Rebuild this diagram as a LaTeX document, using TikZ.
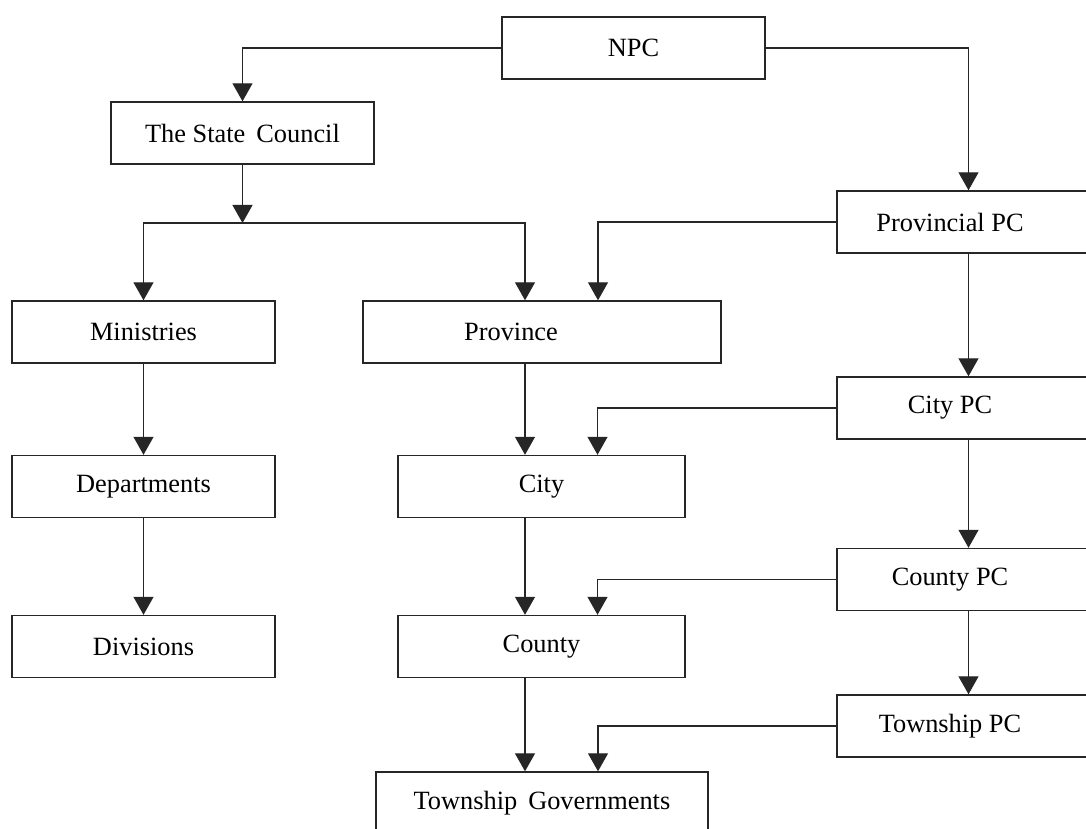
\documentclass[tikz,border=0pt]{standalone}
\usepackage{fontspec}
\setmainfont{Liberation Serif}
\usetikzlibrary{arrows.meta}

\tikzset{
	box/.style={draw=black!85, line width=0.8pt, minimum height=1.24cm, inner sep=0pt, font=\fontsize{15}{18}\selectfont},
	arr/.style={draw=black!85, line width=0.7pt, -{Triangle[length=0.36cm,width=0.4cm]}},
}
\newcommand{\pcname}[1]{#1\hspace{0.74cm}\mbox{}}

\begin{document}
\begin{tikzpicture}[]
	%\draw[help lines, thick] (0,0) grid (22,17);
	\useasboundingbox (0,0) rectangle (21.72,16.56);
	\clip (0,0) rectangle (21.72,16.56);
	\node[box, minimum width=5.26cm] (npc) at (12.67,15.6) {NPC};
	\node[box, minimum width=5.26cm] (council) at (4.85,13.9) {The State\, Council};
	\node[box, minimum width=5.26cm] (provpc) at (19.37,12.12) {\pcname{Provincial PC}};
	\node[box, minimum width=5.26cm] (ministries) at (2.87,9.92) {Ministries};
	\node[box, minimum width=7.16cm] (province) at (10.84,9.92) {Province\hspace{1.24cm}\mbox{}};
	\node[box, minimum width=5.26cm] (citypc) at (19.37,8.4) {\pcname{City PC}};
	\node[box, minimum width=5.26cm] (departments) at (2.87,6.83) {Departments};
	\node[box, minimum width=5.74cm] (city) at (10.83,6.83) {City};
	\node[box, minimum width=5.26cm] (countypc) at (19.37,4.97) {\pcname{County PC}};
	\node[box, minimum width=5.26cm] (divisions) at (2.87,3.63) {Divisions};
	\node[box, minimum width=5.74cm] (county) at (10.83,3.63) {County};
	\node[box, minimum width=5.26cm] (townshippc) at (19.37,2.04) {\pcname{Township PC}};
	\node[box, minimum width=6.64cm] (township) at (10.84,0.5) {Township\, Governments};
	\coordinate (fork) at (4.85,12.1);
	\draw[arr] (npc.west) -| (council.north);
	\draw[arr] (npc.east) -| (provpc.north);
	\draw[arr] (council.south) -- (fork);
	\draw[arr] (fork) -| (ministries.north);
	\draw[arr] (fork) -| ([xshift=-0.34cm]province.north);
	\draw[arr] (provpc.west) -| ([xshift=1.12cm]province.north);
	\draw[arr] (provpc.south) -- (citypc.north);
	\draw[arr] (citypc.west) -| ([xshift=1.12cm]city.north);
	\draw[arr] (citypc.south) -- (countypc.north);
	\draw[arr] (countypc.west) -| ([xshift=1.12cm]county.north);
	\draw[arr] (countypc.south) -- (townshippc.north);
	\draw[arr] (townshippc.west) -| ([xshift=1.12cm]township.north);
	\draw[arr] (ministries.south) -- (departments.north);
	\draw[arr] (departments.south) -- (divisions.north);
	\draw[arr] ([xshift=-0.34cm]province.south) -- ([xshift=-0.33cm]city.north);
	\draw[arr] ([xshift=-0.33cm]city.south) -- ([xshift=-0.33cm]county.north);
	\draw[arr] ([xshift=-0.33cm]county.south) -- ([xshift=-0.34cm]township.north);
\end{tikzpicture}
\end{document}
